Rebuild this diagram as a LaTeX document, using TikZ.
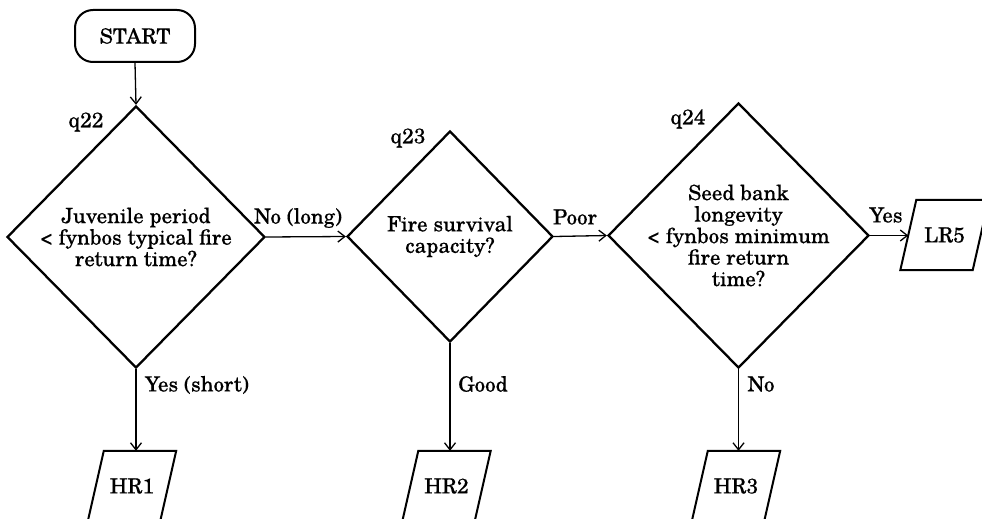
\documentclass[tikz,border=0pt]{standalone}
\usepackage{fontspec}
\setmainfont{TeX Gyre Schola}[FakeBold=0.3]
\usetikzlibrary{shapes.geometric,arrows.meta}
\tikzset{
  startbox/.style={rectangle, rounded corners=18pt, draw, line width=2pt, minimum width=120pt, minimum height=52pt, inner sep=0pt},
  decision/.style={diamond, draw, line width=2.3pt, inner sep=-45pt, align=center},
  iobox/.style={rectangle, minimum width=72pt, minimum height=70pt, inner sep=0pt},
  ioline/.style={line width=2pt, line join=miter},
  arr/.style={line width=1.3pt, -{Straight Barb[length=7pt,width=11pt]}},
  lbl/.style={inner sep=0pt}
}
\begin{document}
\begin{tikzpicture}[x=1pt,y=-1pt,font=\fontsize{21}{21.5}\selectfont]
\useasboundingbox (0,0) rectangle (982,519);
\fill[white] (0,0) rectangle (982,519);
\clip (0,0) rectangle (982,519);
\node[startbox] (start) at (135,36) {START};
\node[decision, minimum width=258pt, minimum height=262pt] (d1) at (136,237) {Juvenile period\\< fynbos typical fire\\return time?};
\node[decision, minimum width=206pt, minimum height=211pt] (d2) at (450,236.5) {Fire survival\\capacity?};
\node[decision, minimum width=261pt, minimum height=265pt] (d3) at (738.5,235.5) {Seed bank\\longevity\\< fynbos minimum\\fire return\\time?};
\node[iobox] (hr1) at (132,486) {HR1};
\node[iobox] (hr2) at (446.5,486) {HR2};
\node[iobox] (hr3) at (736,486) {HR3};
\node[iobox] (lr5) at (944.5,235) {LR5};
\foreach \n in {hr1,hr2,hr3,lr5}
  \draw[ioline] ([xshift=8pt]\n.north west) -- ([xshift=8pt]\n.north east) -- ([xshift=-8pt]\n.south east) -- ([xshift=-8pt]\n.south west) -- cycle;
\node[lbl] (q22) at (86,122) {q22};
\node[lbl] (q23) at (408,138) {q23};
\node[lbl] (q24) at (688,119) {q24};
\node[lbl] (l1) at (298,218) {No (long)};
\node[lbl] (l2) at (575,217) {Poor};
\node[lbl] (l3) at (886,215) {Yes};
\node[lbl] (l4) at (197,385) {Yes (short)};
\node[lbl] (l5) at (483,384) {Good};
\node[lbl] (l6) at (761,384) {No};
\draw[arr] (start.south) -- (d1.north);
\draw[arr] (d1.east) -- (d2.west);
\draw[arr] (d2.east) -- (d3.west);
\draw[arr] (d3.east) -- (d3.east -| lr5.west);
\draw[arr] (d1.south) -- (d1.south |- hr1.north);
\draw[arr] (d2.south) -- (d2.south |- hr2.north);
\draw[arr] (d3.south) -- (d3.south |- hr3.north);
\end{tikzpicture}
\end{document}
